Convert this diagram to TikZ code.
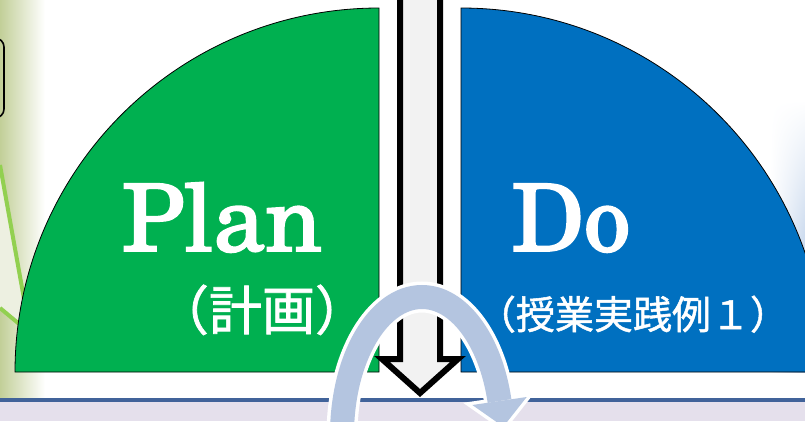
\documentclass[tikz,border=0pt]{standalone}
\usepackage{fontspec}
\usetikzlibrary{shadings}
\setmainfont{TeX Gyre Schola}
\newfontfamily\planfont[FakeBold=2]{TeX Gyre Schola}
\newfontfamily\cjk[FakeBold=1.3]{Noto Sans CJK JP}
\definecolor{pgreen}{HTML}{00B050}
\definecolor{pblue}{HTML}{0070C0}
\definecolor{arcblue}{HTML}{B4C5E0}
\definecolor{lav}{HTML}{E5E0EC}
\definecolor{bline}{HTML}{41639A}
\definecolor{shaftgray}{HTML}{F2F2F2}
\definecolor{lgreen}{HTML}{C2CF98}
\definecolor{palegreen}{HTML}{EDF0E1}
\definecolor{stripe}{HTML}{92D050}
\definecolor{lblue}{HTML}{A9C2E3}
\tikzset{
  quarter/.style={draw=black, line width=0.8pt},
  bigword/.style={anchor=base, text=white, font=\planfont\fontsize{93}{93}\selectfont},
  cjkA/.style={anchor=base, text=white, font=\cjk\fontsize{53}{53}\selectfont},
  cjkB/.style={anchor=base, text=white, font=\cjk\fontsize{39}{39}\selectfont},
}
\begin{document}
\begin{tikzpicture}[x=1pt,y=-1pt]
\useasboundingbox (0,0) rectangle (805,421);
\clip (0,0) rectangle (805,421);
\fill[white] (0,0) rectangle (805,421);
% left decoration
\shade[left color=lgreen, right color=white] (0,0) rectangle (45,398);
\fill[palegreen] (0,165) -- (28,321) -- (30,333) -- (0,308) -- cycle;
\draw[stripe, line width=4pt] (0,165) -- (28,321);
\draw[stripe, line width=4pt] (0,308) -- (30,333);
\draw[line width=1.6pt, rounded corners=9pt] (-40,38) rectangle (4,118);
% right decoration
\shade[upper left=white, upper right=white, lower left=white, lower right=lblue] (770,100) rectangle (805,330);
\shade[left color=white, right color=lblue] (770,330) rectangle (805,372);
% quarter discs
\filldraw[quarter, fill=pgreen] (379,372) -- (15,372) arc[start angle=180, end angle=270, radius=364] -- cycle;
\filldraw[quarter, fill=pblue] (461,372) -- (461,8) arc[start angle=270, end angle=360, radius=364] -- cycle;
% bottom band
\fill[lav] (0,400) rectangle (805,421);
\fill[bline] (0,397.5) rectangle (805,401.5);
% central down arrow
\filldraw[fill=shaftgray, draw=black, line width=6pt, miter limit=10]
  (400,-10) -- (400,359) -- (382,359) -- (420,393) -- (458,359) -- (440,359) -- (440,-10) -- cycle;
% texts
\node[bigword] (plan) at (222,251) {Plan};
\node[bigword] (do) at (571,251) {Do};
\node[cjkA] (keikaku) at (262,330) {（計画）};
\node[cjkB] (jissen) at (633,329) {（授業実践例１）};
% curved arrow: white outline
\draw[white, line width=31pt] (342,435) arc[start angle=180, end angle=345.74, x radius=80, y radius=138];
\filldraw[white, line width=7pt, line join=miter] (526.7,397) -- (503.3,426.7) -- (472.3,405) -- cycle;
% curved arrow: body
\draw[arcblue, line width=24pt] (342,435) arc[start angle=180, end angle=345.74, x radius=80, y radius=138];
\fill[arcblue] (526.7,397) -- (503.3,426.7) -- (472.3,405) -- cycle;
\end{tikzpicture}
\end{document}
